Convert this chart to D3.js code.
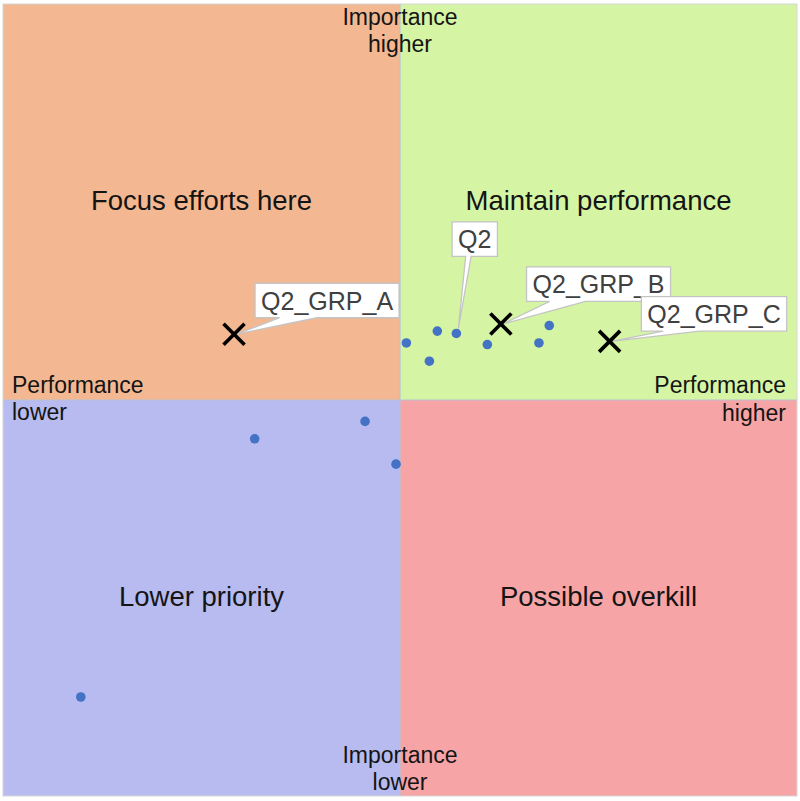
<!DOCTYPE html>
<html>
<head>
<meta charset="utf-8">
<script src="https://cdn.jsdelivr.net/npm/d3@7"></script>
<style>
  html, body { margin: 0; padding: 0; background: #ffffff; }
  svg { display: block; font-family: "Liberation Sans", Arial, sans-serif; }
</style>
</head>
<body>
<svg id="chart" width="800" height="801"></svg>
<script>
// ---------- data ----------
// Performance (x) and Importance (y) on a 0-10 scale, midpoint 5
const dotPerformance = [5.08, 5.47, 5.71, 5.37, 6.10, 6.75, 6.88, 4.56, 3.17, 4.95, 0.98];
const dotImportance  = [5.72, 5.87, 5.84, 5.49, 5.70, 5.72, 5.94, 4.73, 4.51, 4.19, 1.25];
const dotNames       = ["", "", "Q2", "", "", "", "", "", "", "", ""];

const groupNames       = ["Q2_GRP_A", "Q2_GRP_B", "Q2_GRP_C"];
const groupPerformance = [2.91, 6.27, 7.64];
const groupImportance  = [5.83, 5.96, 5.74];

const quadrantTitles = ["Focus efforts here", "Maintain performance", "Lower priority", "Possible overkill"];
const axisLabelsImportance  = [["Importance", "higher"], ["Importance", "lower"]];
const axisLabelsPerformance = [["Performance", "lower"], ["Performance", "higher"]];
const domainMin = 0, domainMid = 5, domainMax = 10;

// ---------- layout ----------
const svg = d3.select("#chart");
const L = 3, R = 797, T = 4, B = 796;
const x = d3.scaleLinear().domain([domainMin, domainMax]).range([L, R]);
const y = d3.scaleLinear().domain([domainMin, domainMax]).range([B, T]);
const cx = x(domainMid), cy = y(domainMid);

const quadColors = ["#F3B891", "#D5F5A4", "#B7BBEF", "#F7A4A6"];
const quads = [
  {x0: domainMin, x1: domainMid, y0: domainMid, y1: domainMax},
  {x0: domainMid, x1: domainMax, y0: domainMid, y1: domainMax},
  {x0: domainMin, x1: domainMid, y0: domainMin, y1: domainMid},
  {x0: domainMid, x1: domainMax, y0: domainMin, y1: domainMid}
];

svg.selectAll("rect.quad").data(quads).enter().append("rect")
  .attr("class", "quad")
  .attr("x", d => x(d.x0)).attr("y", d => y(d.y1))
  .attr("width", d => x(d.x1) - x(d.x0)).attr("height", d => y(d.y0) - y(d.y1))
  .attr("fill", (d, i) => quadColors[i]);

// outer border
svg.append("rect").attr("x", L).attr("y", T).attr("width", R - L).attr("height", B - T)
  .attr("fill", "none").attr("stroke", "#d6d6d6").attr("stroke-width", 1);

// center dividers
svg.append("line").attr("x1", cx).attr("x2", cx).attr("y1", T).attr("y2", B)
  .attr("stroke", "#b9c2d4").attr("stroke-width", 1.2);
svg.append("line").attr("x1", L).attr("x2", R).attr("y1", cy).attr("y2", cy)
  .attr("stroke", "#b9c2d4").attr("stroke-width", 1.2);

// quadrant titles
quads.forEach((q, i) => {
  svg.append("text")
    .attr("x", (x(q.x0) + x(q.x1)) / 2)
    .attr("y", (y(q.y0) + y(q.y1)) / 2 + 8)
    .attr("text-anchor", "middle")
    .attr("font-size", 27.5)
    .attr("fill", "#141414")
    .text(quadrantTitles[i]);
});

// axis labels
function multiline(xp, yp, lines, anchor, size, lh) {
  const t = svg.append("text").attr("x", xp).attr("y", yp)
    .attr("text-anchor", anchor).attr("font-size", size).attr("fill", "#141414");
  lines.forEach((ln, k) => t.append("tspan").attr("x", xp).attr("y", yp + k * lh).text(ln));
}
multiline(cx, 25, axisLabelsImportance[0], "middle", 23, 26.5);
multiline(cx, 763, axisLabelsImportance[1], "middle", 23, 26.5);
multiline(L + 9, 393, axisLabelsPerformance[0], "start", 23, 27);
multiline(R - 11, 393, axisLabelsPerformance[1], "end", 23, 28);

// ---------- callouts (drawn beneath markers) ----------
const calloutLayout = {
  "Q2":       {dx: -4.3, dy: -111.6, b0: 0.30, b1: 0.42, tipDy: -5},
  "Q2_GRP_A": {dx: 21,   dy: -51,    b0: 0.17, b1: 0.43, tipDy: 0},
  "Q2_GRP_B": {dx: 25.7, dy: -57,    b0: 0.16, b1: 0.41, tipDy: 0},
  "Q2_GRP_C": {dx: 31.7, dy: -44.7,  b0: 0.15, b1: 0.40, tipDy: 0}
};
const labelled = [];
dotNames.forEach((n, i) => { if (n) labelled.push({name: n, px: x(dotPerformance[i]), py: y(dotImportance[i])}); });
groupNames.forEach((n, i) => labelled.push({name: n, px: x(groupPerformance[i]), py: y(groupImportance[i])}));

const calloutG = svg.append("g");
labelled.forEach(d => {
  const lay = calloutLayout[d.name];
  const bx = d.px + lay.dx, by = d.py + lay.dy;
  const tmp = calloutG.append("text").attr("font-size", 25).text(d.name);
  const tw = tmp.node().getComputedTextLength();
  tmp.remove();
  const pad = 6, bh = 34.5;
  const bw = tw + pad * 2;
  const bL = bx, bR = bx + bw, bT = by, bB = by + bh;
  const w0 = bL + bw * lay.b0, w1 = bL + bw * lay.b1;
  const p = d3.path();
  p.moveTo(bL, bT); p.lineTo(bR, bT); p.lineTo(bR, bB); p.lineTo(w1, bB);
  p.lineTo(d.px + 2, d.py + lay.tipDy); p.lineTo(w0, bB); p.lineTo(bL, bB); p.closePath();
  calloutG.append("path").attr("d", p.toString())
    .attr("fill", "#ffffff").attr("stroke", "#c4c4c4").attr("stroke-width", 1.3)
    .attr("stroke-linejoin", "miter");
  calloutG.append("text").attr("x", bL + pad).attr("y", bT + bh / 2 + 9)
    .attr("font-size", 25).attr("fill", "#404040").text(d.name);
});

// ---------- dots ----------
svg.selectAll("circle.dot").data(dotPerformance).enter().append("circle")
  .attr("class", "dot")
  .attr("cx", (d, i) => x(d)).attr("cy", (d, i) => y(dotImportance[i]))
  .attr("r", 4.8).attr("fill", "#4472C4");

// ---------- group markers (X) ----------
const xs = 10.5;
groupNames.forEach((n, i) => {
  const px = x(groupPerformance[i]), py = y(groupImportance[i]);
  const g = svg.append("g");
  g.append("line").attr("x1", px - xs).attr("y1", py - xs).attr("x2", px + xs).attr("y2", py + xs)
    .attr("stroke", "#000").attr("stroke-width", 3.6);
  g.append("line").attr("x1", px - xs).attr("y1", py + xs).attr("x2", px + xs).attr("y2", py - xs)
    .attr("stroke", "#000").attr("stroke-width", 3.6);
});
</script>
</body>
</html>
